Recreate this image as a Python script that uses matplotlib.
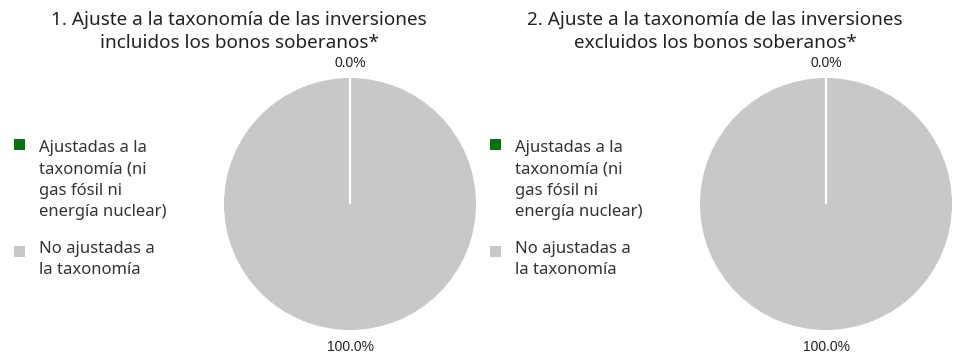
import matplotlib
matplotlib.use("Agg")
import matplotlib.pyplot as plt
from matplotlib.patches import Rectangle

# Datos de los dos gráficos
titulos = [
    ["1. Ajuste a la taxonomía de las inversiones", "incluidos los bonos soberanos*"],
    ["2. Ajuste a la taxonomía de las inversiones", "excluidos los bonos soberanos*"],
]
categorias = [
    ["Ajustadas a la", "taxonomía (ni", "gas fósil ni", "energía nuclear)"],
    ["No ajustadas a", "la taxonomía"],
]
valores_incl = [0.0, 100.0]
valores_excl = [0.0, 100.0]
colores = ["#0d6e12", "#c8c8c8"]

plt.rcParams["font.family"] = ["Noto Sans", "DejaVu Sans"]

W, H = 957, 360
fig = plt.figure(figsize=(W / 100, H / 100), dpi=100)


def px_axes(x0, y0, x1, y1):
    # rectángulo en píxeles (origen arriba a la izquierda)
    return fig.add_axes([x0 / W, 1 - y1 / H, (x1 - x0) / W, (y1 - y0) / H])


# capa de texto en coordenadas de píxel
tax = px_axes(0, 0, W, H)
tax.set_xlim(0, W)
tax.set_ylim(H, 0)
tax.axis("off")

for i, (titulo, valores) in enumerate(zip(titulos, [valores_incl, valores_excl])):
    dx = i * 476
    ax = px_axes(224 + dx, 78, 476 + dx, 330)
    wedges, _, autotexts = ax.pie(
        valores, colors=colores, startangle=90, counterclock=False,
        autopct="%.1f%%", pctdistance=1.12,
        wedgeprops=dict(edgecolor="white", linewidth=1.5),
        textprops=dict(family="Liberation Sans", fontsize=10, color="#222222"),
    )
    wedges[0].set_zorder(5)
    wedges[1].set_edgecolor("none")
    autotexts[1].set_position((0, -1.135))
    for t in autotexts:
        t.set_clip_on(False)
    ax.set_xlim(-1, 1)
    ax.set_ylim(-1, 1)
    ax.set_aspect("equal")

    for linea, yb in zip(titulo, [25, 48]):
        tax.text(239 + dx, yb, linea, ha="center", va="baseline",
                 fontsize=13.6, color="#222222")

    # leyenda: cuadrado de color + texto
    for cat, col, y0, yb in zip(categorias, colores, [139, 246], [152, 253]):
        tax.add_patch(Rectangle((14 + dx, y0), 11, 11, facecolor=col, edgecolor="none"))
        for k, linea in enumerate(cat):
            tax.text(39 + dx, yb + k * 21.4, linea, ha="left", va="baseline",
                     fontsize=12, color="#333333")

fig.savefig("out.png", dpi=100, facecolor="white")
